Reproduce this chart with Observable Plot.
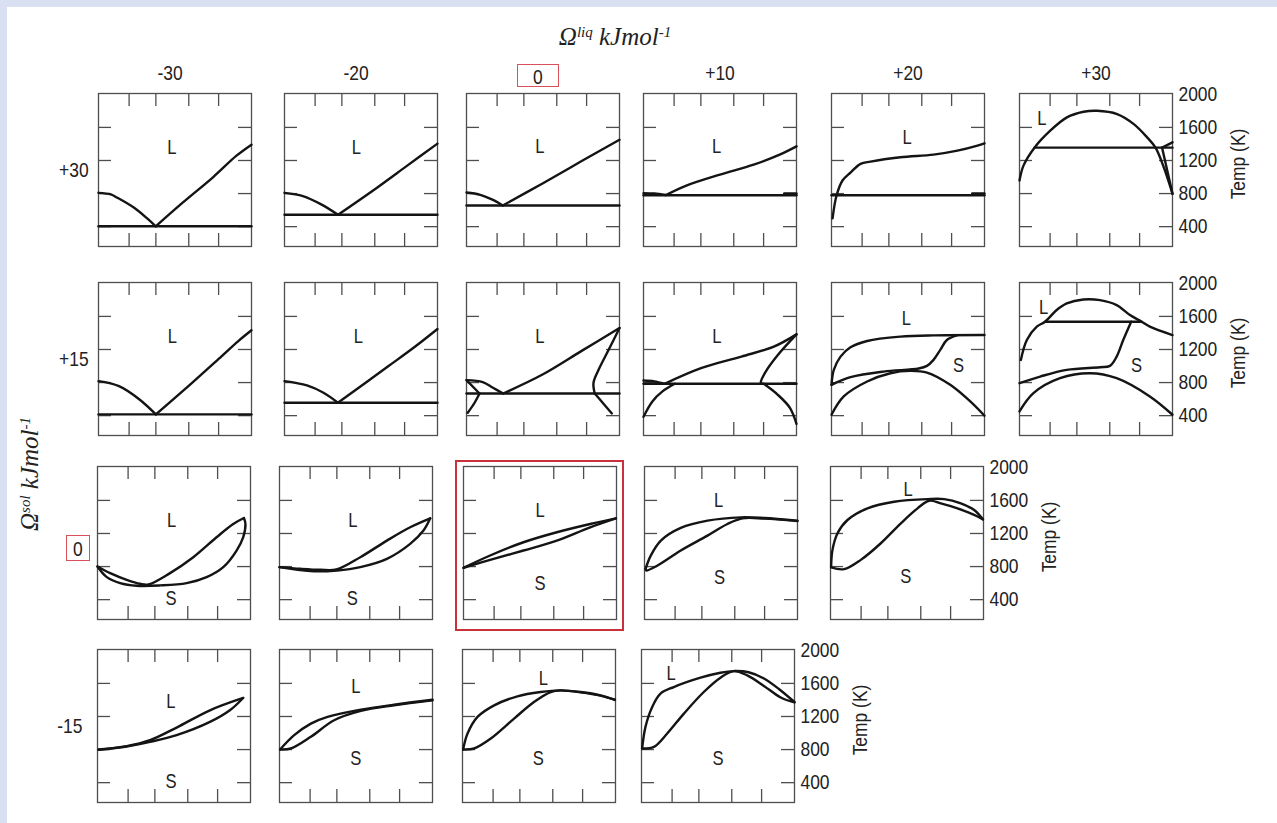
<!DOCTYPE html>
<html>
<head>
<meta charset="utf-8">
<script src="https://cdn.jsdelivr.net/npm/d3@7"></script>
<script src="https://cdn.jsdelivr.net/npm/@observablehq/plot@0.6"></script>
<style>
  html, body { margin: 0; padding: 0; background: #d9e0f1; }
  #fig { position: absolute; left: 7px; top: 7px; width: 1270px; height: 816px; background: #fff; overflow: hidden; }
  .narrow { font-family: "Liberation Sans", Arial, sans-serif; color: #222; }
  .abs { position: absolute; white-space: nowrap; }
  .serif { font-family: "Liberation Serif", "Times New Roman", serif; font-style: italic; color: #222; }
  .serif sup { font-size: 60%; vertical-align: 0; position: relative; top: -0.55em; }
</style>
</head>
<body>
<div id="fig"></div>
<script>
// ---------------- data ----------------
const liqValues = ["-30", "-20", "0", "+10", "+20", "+30"];   // Ω liq (kJ/mol), columns
const solValues = ["+30", "+15", "0", "-15"];                  // Ω sol (kJ/mol), rows
const tempTicks = [400, 800, 1200, 1600, 2000];
const innerTempTicks = [400, 800, 1200, 1600];
const compTicks = [0.2, 0.375, 0.59, 0.785];

// curves: arrays of [composition, T(K)]
// Ωsol = +30
const c_p30_m30 = [
  [[0,404],[1,404]],
  [[0,809],[0.08,790],[0.124,749],[0.233,628],[0.32,496],[0.374,404]],
  [[0.374,404],[0.55,690],[0.75,1000],[0.9,1255],[1,1391]]
];
const c_p30_m20 = [
  [[0,544],[1,544]],
  [[0,809],[0.12,770],[0.24,670],[0.35,544]],
  [[0.35,544],[0.6,865],[0.8,1135],[1,1404]]
];
const c_p30_0 = [
  [[0,656],[1,656]],
  [[0,813],[0.09,785],[0.18,717],[0.237,656]],
  [[0.237,656],[0.5,925],[0.75,1190],[1,1450]]
];
const c_p30_p10 = [
  [[0,780],[1,780]],
  [[0,805],[0.07,800],[0.146,782]],
  [[0.146,782],[0.28,897],[0.5,1030],[0.72,1150],[0.89,1271],[1,1371]],
  [[0.92,800],[1,800]]
];
const c_p30_p20 = [
  [[0,780],[1,780]],
  [[0.007,500],[0.033,777],[0.072,958],[0.124,1054],[0.19,1159],[0.255,1187],[0.45,1239],[0.667,1271],[0.823,1319],[0.954,1380],[1,1408]],
  [[0.92,800],[1,800]]
];
const c_p30_p30 = [
  [[0,958],[0.026,1138],[0.098,1355],[0.201,1560],[0.31,1721],[0.419,1789],[0.507,1801],[0.638,1761],[0.747,1640],[0.834,1480],[0.889,1355],[0.943,1118],[0.976,937],[1,797]],
  [[0.098,1355],[1,1355]],
  [[0.932,1355],[1,797]],
  [[0.932,1355],[1,1419]]
];
// Ωsol = +15
const c_p15_m30 = [
  [[0,415],[1,415]],
  [[0,817],[0.134,757],[0.268,596],[0.375,415]],
  [[0.375,415],[0.563,717],[0.804,1118],[0.912,1299],[1,1432]]
];
const c_p15_m20 = [
  [[0,556],[1,556]],
  [[0,817],[0.147,765],[0.255,676],[0.349,556]],
  [[0.349,556],[0.68,1000],[0.85,1230],[1,1448]]
];
const c_p15_0 = [
  [[0,668],[1,668]],
  [[0,829],[0.106,805],[0.173,737],[0.24,668]],
  [[0,829],[0.085,668]],
  [[0.085,668],[0.053,556],[0.008,435]],
  [[0.24,668],[0.5,900],[0.75,1180],[1,1460]],
  [[1,1460],[0.93,1199],[0.864,957],[0.83,797],[0.838,668]],
  [[0.838,668],[0.89,556],[0.95,427]]
];
const c_p15_p10 = [
  [[0,785],[1,785]],
  [[0,825],[0.07,815],[0.138,785]],
  [[0.138,785],[0.376,974],[0.64,1114],[0.852,1235],[1,1383]],
  [[1,1383],[0.878,1134],[0.799,933],[0.767,805],[0.775,785]],
  [[0,386],[0.058,572],[0.124,693],[0.204,785]],
  [[0.786,785],[0.878,652],[0.958,492],[1,300]]
];
const c_p15_p20 = [
  [[0,773],[0.015,954],[0.059,1114],[0.124,1227],[0.233,1303],[0.45,1355],[0.667,1371],[1,1375]],
  [[0,773],[0.124,865],[0.341,933],[0.57,970],[0.624,1002],[0.667,1074],[0.711,1195],[0.754,1315],[0.82,1371]],
  [[0,411],[0.08,632],[0.233,813],[0.385,913],[0.515,941],[0.624,921],[0.776,773],[0.907,572],[1,399]]
];
const c_p15_p30 = [
  [[0.009,1074],[0.048,1315],[0.113,1476],[0.167,1536],[0.243,1677],[0.309,1757],[0.417,1805],[0.526,1797],[0.635,1737],[0.722,1616],[0.798,1536],[0.852,1476],[1,1375]],
  [[0.167,1536],[0.798,1536]],
  [[0,793],[0.135,873],[0.309,954],[0.526,986],[0.591,1002],[0.635,1114],[0.678,1315],[0.73,1536]],
  [[0,451],[0.091,672],[0.265,853],[0.461,913],[0.635,853],[0.852,632],[1,411]]
];
// Ωsol = 0
const c_0_m30 = [
  [[0,801],[0.083,721],[0.191,640],[0.278,592],[0.333,584],[0.474,721],[0.626,913],[0.778,1154],[0.887,1315],[0.957,1387]],
  [[0,801],[0.061,672],[0.148,600],[0.257,568],[0.409,572],[0.583,600],[0.713,672],[0.822,793],[0.909,994],[0.952,1154],[0.967,1315],[0.957,1387]]
];
const c_0_m20 = [
  [[0,793],[0.137,773],[0.267,761],[0.372,765],[0.528,913],[0.702,1114],[0.854,1275],[0.985,1383]],
  [[0,793],[0.202,745],[0.376,753],[0.528,793],[0.702,893],[0.854,1074],[0.941,1235],[0.985,1383]]
];
const c_0_0 = [
  [[0,785],[0.174,934],[0.392,1094],[0.61,1215],[0.828,1315],[0.996,1383]],
  [[0,785],[0.174,881],[0.392,994],[0.61,1114],[0.828,1275],[0.996,1383]]
];
const c_0_p10 = [
  [[0.007,773],[0.041,933],[0.107,1114],[0.237,1267],[0.412,1355],[0.63,1395],[0.782,1387],[1,1355]],
  [[0.007,773],[0.011,753],[0.085,813],[0.237,994],[0.412,1174],[0.542,1315],[0.64,1383],[0.782,1380],[1,1350]]
];
const c_0_p20 = [
  [[0.004,801],[0.013,1002],[0.046,1203],[0.111,1363],[0.242,1504],[0.416,1584],[0.634,1616],[0.743,1616],[0.852,1564],[0.939,1484],[0.996,1371]],
  [[0.004,790],[0.089,769],[0.198,881],[0.329,1082],[0.46,1323],[0.569,1504],[0.645,1596],[0.721,1564],[0.83,1504],[0.939,1424],[0.996,1371]]
];
// Ωsol = -15
const c_m15_m30 = [
  [[0.007,801],[0.191,841],[0.343,913],[0.517,1066],[0.735,1275],[0.952,1424]],
  [[0.007,797],[0.191,837],[0.343,893],[0.517,974],[0.735,1134],[0.865,1275],[0.952,1424]]
];
const c_m15_m20 = [
  [[0.004,801],[0.096,974],[0.205,1114],[0.314,1195],[0.532,1283],[0.749,1343],[1,1403]],
  [[0.004,801],[0.074,813],[0.205,954],[0.357,1154],[0.532,1267],[0.749,1335],[1,1395]]
];
const c_m15_0 = [
  [[0.004,801],[0.033,994],[0.098,1195],[0.207,1335],[0.359,1444],[0.511,1496],[0.641,1516],[0.772,1496],[0.902,1456],[0.996,1403]],
  [[0.004,801],[0.076,813],[0.185,933],[0.337,1174],[0.467,1375],[0.576,1496],[0.641,1516],[0.772,1492],[0.902,1452],[0.996,1400]]
];
const c_m15_p10 = [
  [[0.004,813],[0.026,1074],[0.07,1315],[0.124,1476],[0.211,1556],[0.386,1669],[0.516,1729],[0.603,1749],[0.7,1735],[0.8,1660],[0.9,1530],[1,1375]],
  [[0.004,813],[0.081,833],[0.168,994],[0.277,1235],[0.407,1496],[0.516,1669],[0.603,1749],[0.691,1697],[0.8,1570],[0.91,1430],[1,1370]]
];

// phase-field labels: [composition, T, text]
const t_p30 = [[[0.48,1359,"L"]],[[0.47,1359,"L"]],[[0.48,1367,"L"]],[[0.478,1367,"L"]],[[0.494,1480,"L"]],[[0.146,1701,"L"]]];
const t_p15 = [[[0.483,1359,"L"]],[[0.483,1359,"L"]],[[0.479,1359,"L"]],[[0.48,1355,"L"]],[[0.49,1576,"L"],[0.83,1002,"S"]],[[0.157,1705,"L"],[0.765,1002,"S"]]];
const t_0   = [[[0.485,1355,"L"],[0.48,411,"S"]],[[0.48,1355,"L"],[0.476,411,"S"]],[[0.5,1476,"L"],[0.5,600,"S"]],[[0.484,1596,"L"],[0.49,672,"S"]],[[0.508,1725,"L"],[0.492,680,"S"]]];
const t_m15 = [[[0.48,1375,"L"],[0.48,411,"S"]],[[0.499,1556,"L"],[0.499,692,"S"]],[[0.528,1656,"L"],[0.496,692,"S"]],[[0.194,1717,"L"],[0.5,692,"S"]]];

// ---------------- layout ----------------
const W = 153, H = 153, TICK = 13, SQ = 0.83;
const rows = [
  {top: 93,  lefts: [98, 284, 466, 643, 831, 1019], curves: [c_p30_m30, c_p30_m20, c_p30_0, c_p30_p10, c_p30_p20, c_p30_p30], texts: t_p30},
  {top: 282, lefts: [98, 284, 466, 643, 831, 1019], curves: [c_p15_m30, c_p15_m20, c_p15_0, c_p15_p10, c_p15_p20, c_p15_p30], texts: t_p15},
  {top: 466, lefts: [97, 279, 463, 644, 830],       curves: [c_0_m30, c_0_m20, c_0_0, c_0_p10, c_0_p20], texts: t_0},
  {top: 649, lefts: [97, 279, 462, 641],            curves: [c_m15_m30, c_m15_m20, c_m15_0, c_m15_p10], texts: t_m15}
];
const FIGX = 7, FIGY = 7;
const fig = document.getElementById("fig");
const FONT = '"Liberation Sans", Arial, sans-serif';
const FRAME = "#4e4e4e";

function condense(svg) {
  svg.querySelectorAll("text").forEach(t => {
    const x = t.getAttribute("x");
    if (x != null && x !== "") t.setAttribute("x", (+x) / SQ);
    const tr = t.getAttribute("transform") || "";
    t.setAttribute("transform", tr + ` scale(${SQ},1)`);
  });
}

function panel(curves, texts, withAxis) {
  const marks = [
    Plot.frame({stroke: FRAME, strokeWidth: 1.3}),
    Plot.tickX(compTicks, {x: d => d, insetBottom: H - TICK, stroke: FRAME, strokeWidth: 1.3}),
    Plot.tickX(compTicks, {x: d => d, insetTop: H - TICK, stroke: FRAME, strokeWidth: 1.3}),
    Plot.tickY(innerTempTicks, {y: d => d, insetRight: W - TICK, stroke: FRAME, strokeWidth: 1.3}),
    Plot.tickY(innerTempTicks, {y: d => d, insetLeft: W - TICK, stroke: FRAME, strokeWidth: 1.3}),
    ...curves.map(c => Plot.line(c, {x: d => d[0], y: d => d[1], curve: "catmull-rom", stroke: "#141414", strokeWidth: 2.4, strokeLinejoin: "round", strokeLinecap: "round"})),
    Plot.text(texts, {x: d => d[0], y: d => d[1], text: d => d[2], fontSize: 20, fill: "#222"})
  ];
  if (withAxis) marks.push(Plot.axisY({anchor: "right", ticks: tempTicks, tickSize: 0, tickPadding: 6, fontSize: 21, fill: "#222", label: null, tickFormat: d => String(d)}));
  const svg = Plot.plot({
    width: W, height: H, margin: 0,
    x: {domain: [0, 1], axis: null},
    y: withAxis ? {domain: [160, 2010]} : {domain: [160, 2010], axis: null},
    style: {overflow: "visible", background: "transparent", fontFamily: FONT, color: "#222"},
    marks
  });
  condense(svg);
  return svg;
}

function addText(html, cls, css) {
  const d = document.createElement("div");
  d.className = "abs " + cls;
  d.innerHTML = html;
  Object.assign(d.style, css);
  fig.appendChild(d);
  return d;
}

rows.forEach((row, ri) => {
  row.lefts.forEach((left, ci) => {
    const last = ci === row.lefts.length - 1;
    const svg = panel(row.curves[ci], row.texts[ci], last);
    svg.style.position = "absolute";
    svg.style.left = (left - FIGX) + "px";
    svg.style.top = (row.top - FIGY) + "px";
    fig.appendChild(svg);
    if (last) {
      addText("Temp (K)", "narrow", {left: (left + W + 66 - FIGX) + "px", top: (row.top + H / 2 - 6 - FIGY) + "px", fontSize: "21px", transform: `translate(-50%,-50%) rotate(-90deg) scaleX(${SQ})`});
    }
  });
  // row label
  const cy = row.top + H / 2 - FIGY;
  const lab = solValues[ri];
  if (lab === "0") {
    addText(`<span style="display:inline-block;transform:scaleX(${SQ})">${lab}</span>`, "narrow", {left: (66 - FIGX) + "px", top: (535 - FIGY) + "px", width: "22px", height: "24px", lineHeight: "25px", textAlign: "center", fontSize: "21px", border: "1.3px solid #d9515a"});
  } else {
    const rx = ri === 3 ? 82 : 89;
    addText(lab, "narrow", {right: (1270 - (rx - FIGX)) + "px", top: cy + "px", fontSize: "21px", transform: `translateY(-50%) scaleX(${SQ})`, transformOrigin: "right center"});
  }
});

// column headers (top row)
rows[0].lefts.forEach((left, ci) => {
  const lab = liqValues[ci];
  const cx = left + W / 2 - FIGX + (lab.startsWith("-") ? -5 : 0);
  if (lab === "0") {
    addText(`<span style="display:inline-block;transform:scaleX(${SQ})">${lab}</span>`, "narrow", {left: (517 - FIGX) + "px", top: (64 - FIGY) + "px", width: "40px", height: "21px", lineHeight: "23px", textAlign: "center", fontSize: "21px", border: "1.3px solid #d9515a"});
  } else {
    addText(lab, "narrow", {left: cx + "px", top: (73 - FIGY) + "px", fontSize: "21px", transform: `translate(-50%,-50%) scaleX(${SQ})`});
  }
});

// highlight box around Ωsol = 0, Ωliq = 0 panel
addText("", "", {left: (455 - FIGX) + "px", top: (460 - FIGY) + "px", width: "165px", height: "167px", border: "2.5px solid #c9323d"});

// axis titles
addText("Ω<sup>liq</sup> kJmol<sup>-1</sup>", "serif", {left: (615 - FIGX) + "px", top: (37 - FIGY) + "px", fontSize: "25px", transform: "translate(-50%,-50%)"});
addText("Ω<sup>sol</sup> kJmol<sup>-1</sup>", "serif", {left: (30 - FIGX) + "px", top: (474 - FIGY) + "px", fontSize: "25px", transform: "translate(-50%,-50%) rotate(-90deg)"});
</script>
</body>
</html>
